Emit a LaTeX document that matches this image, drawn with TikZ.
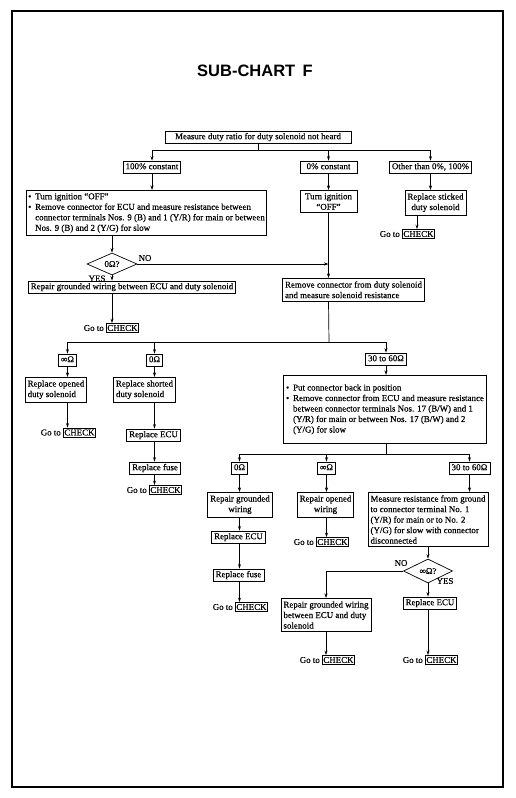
\documentclass[tikz,border=0pt]{standalone}
\usepackage{fontspec}
\setmainfont{Liberation Serif}[BoldFont={Liberation Serif},BoldFeatures={FakeBold=0.4}]
\setsansfont{Liberation Sans}
\usetikzlibrary{shapes.geometric,arrows.meta,positioning}
\newcommand\fs{\fontsize{8.9}{10.5}\selectfont\bfseries}
\newcommand\bulitem{\makebox[7pt][l]{\textbullet}}
\newcommand\bulind{\hspace*{7pt}}
\begin{document}
\begin{tikzpicture}[x=1pt,y=-1pt,
 every node/.style={font=\fs},
 onebox/.style={draw, line width=0.7pt, inner xsep=2.5pt, inner ysep=2pt, text height=6.3pt, text depth=1.9pt},
 multibox/.style={draw, line width=0.7pt, inner xsep=2.5pt, inner ysep=3pt, align=center},
 leftbox/.style={multibox, align=left},
 dia/.style={draw, diamond, line width=0.7pt, inner sep=0pt},
 ckbox/.style={draw, line width=0.7pt, inner xsep=1pt, inner ysep=1.2pt, text height=6.3pt, text depth=0.5pt},
 lab/.style={inner sep=0pt},
 ln/.style={line width=0.7pt},
 arr/.style={ln, -{Stealth[length=4.5pt,width=3pt]}}
]
\useasboundingbox (0,0) rectangle (516,798);
\fill[white] (0,0) rectangle (516,798);
\draw[line width=1.5pt] (12,11) rectangle (503,787);
\node[font=\sffamily\bfseries\fontsize{16.5}{16.5}\selectfont] (title) at (255,71) {SUB-CHART\hspace{0.45em}F};

% level 1
\node[onebox, minimum width=186pt] (A) at (258,137) {Measure duty ratio for duty solenoid not heard};
\coordinate (J1) at (258,150);
\node[onebox] (B1) at (152,167) {100\% constant};
\node[onebox, minimum width=57pt] (B2) at (328.5,167) {0\% constant};
\node[onebox] (B3) at (430.5,167) {Other than 0\%, 100\%};
\draw[ln] (A.south) -- (J1);
\draw[ln] (B1.north |- J1) -- (B3.north |- J1);
\foreach \n in {B1,B2,B3} \draw[arr] (\n.north |- J1) -- (\n.north);

% level 2
\node[leftbox, anchor=north, inner xsep=2pt] (C1) at (146.5,190) {\bulitem Turn ignition “OFF”\\\bulitem Remove connector for ECU and measure resistance between\\\bulind connector terminals Nos. 9 (B) and 1 (Y/R) for main or between\\\bulind Nos. 9 (B) and 2 (Y/G) for slow};
\node[multibox, anchor=north, minimum width=57pt] (C2) at (328.5,190) {Turn ignition\\“OFF”};
\node[multibox, anchor=north] (C3) at (435.5,190) {Replace sticked\\duty solenoid};
\draw[arr] (B1.south) -- (B1.south |- C1.north);
\draw[arr] (B2.south) -- (B2.south |- C2.north);
\draw[arr] (B3.south) -- (B3.south |- C3.north);

\node[ckbox, anchor=west] (k1) at (402,234) {CHECK};
\node[lab, anchor=base east] (g1) at ([xshift=-2pt]k1.base west) {Go to};
\draw[arr] ([xshift=-18.5pt]C3.south) -- ([xshift=-18.5pt]C3.south |- k1.north);

% diamond 1
\node[dia, minimum width=50pt, minimum height=22pt] (D1) at (112,264) {0Ω?};
\draw[arr] (D1.north |- C1.south) -- (D1.north);
\node[lab] (no1) at (145,258) {NO};
\node[lab] (yes1) at (97,278.5) {YES};
\node[onebox] (R1) at (132,287) {Repair grounded wiring between ECU and duty solenoid};
\draw[arr] (D1.south) -- (D1.south |- R1.north);
\node[ckbox, anchor=west] (k2) at (106,328) {CHECK};
\node[lab, anchor=base east] (g2) at ([xshift=-2pt]k2.base west) {Go to};
\draw[arr] (D1.south |- R1.south) -- (D1.south |- k2.north);

% solenoid resistance
\node[leftbox, anchor=north] (E) at (353.5,278) {Remove connector from duty solenoid\\and measure solenoid resistance};
\draw[arr] (C2.south) -- (C2.south |- E.north);
\draw[arr] (D1.east) -- (C2.south |- D1.east);
\coordinate (J2) at (329,342);
\draw[ln] (C2.south |- E.south) -- (J2);
\node[onebox] (H1) at (67.5,360) {∞Ω};
\node[onebox] (H2) at (154.5,360) {0Ω};
\node[onebox] (H3) at (386,359) {30 to 60Ω};
\draw[ln] (H1.north |- J2) -- (H3.north |- J2);
\foreach \n in {H1,H2,H3} \draw[arr] (\n.north |- J2) -- (\n.north);

% infinite branch
\node[leftbox, anchor=north] (I1) at (56,377) {Replace opened\\duty solenoid};
\draw[arr] (H1.south) -- (H1.south |- I1.north);
\node[ckbox, anchor=west] (k3) at (63,432.5) {CHECK};
\node[lab, anchor=base east] (g3) at ([xshift=-2pt]k3.base west) {Go to};
\draw[arr] (H1.south |- I1.south) -- (H1.south |- k3.north);

% zero branch
\node[leftbox, anchor=north] (I2) at (144.5,377) {Replace shorted\\duty solenoid};
\draw[arr] (H2.south) -- (H2.south |- I2.north);
\node[onebox] (ecuA) at (153.5,435) {Replace ECU};
\node[onebox] (fuseA) at (155,468) {Replace fuse};
\draw[arr] (H2.south |- I2.south) -- (H2.south |- ecuA.north);
\draw[arr] (H2.south |- ecuA.south) -- (H2.south |- fuseA.north);
\node[ckbox, anchor=west] (k4) at (149,490) {CHECK};
\node[lab, anchor=base east] (g4) at ([xshift=-2pt]k4.base west) {Go to};
\draw[arr] (H2.south |- fuseA.south) -- (H2.south |- k4.north);

% 30-60 branch
\node[leftbox, anchor=north, minimum height=68pt] (F) at (385,375) {\bulitem Put connector back in position\\\bulitem Remove connector from ECU and measure resistance\\\bulind between connector terminals Nos. 17 (B/W) and 1\\\bulind (Y/R) for main or between Nos. 17 (B/W) and 2\\\bulind (Y/G) for slow};
\draw[arr] (H3.south) -- (H3.south |- F.north);
\coordinate (J3) at (386,454);
\draw[ln] (H3.south |- F.south) -- (J3);
\node[onebox] (L1) at (239.5,468) {0Ω};
\node[onebox] (L2) at (326.5,468) {∞Ω};
\node[onebox] (L3) at (469.5,468) {30 to 60Ω};
\draw[ln] (L1.north |- J3) -- (L3.north |- J3);
\foreach \n in {L1,L2,L3} \draw[arr] (\n.north |- J3) -- (\n.north);

\node[multibox, anchor=north] (M1) at (240,492) {Repair grounded\\wiring};
\node[multibox, anchor=north] (M2) at (325.5,492) {Repair opened\\wiring};
\node[leftbox, anchor=north] (M3) at (428,492) {Measure resistance from ground\\to connector terminal No. 1\\(Y/R) for main or to No. 2\\(Y/G) for slow with connector\\disconnected};
\draw[arr] (L1.south) -- (L1.south |- M1.north);
\draw[arr] (L2.south) -- (L2.south |- M2.north);
\draw[arr] (L3.south) -- (L3.south |- M3.north);

\node[onebox] (ecuB) at (238.5,537) {Replace ECU};
\node[onebox] (fuseB) at (238.5,575) {Replace fuse};
\draw[arr] (L1.south |- M1.south) -- (L1.south |- ecuB.north);
\draw[arr] (L1.south |- ecuB.south) -- (L1.south |- fuseB.north);
\node[ckbox, anchor=west] (k6) at (235,607) {CHECK};
\node[lab, anchor=base east] (g6) at ([xshift=-2pt]k6.base west) {Go to};
\draw[arr] (L1.south |- fuseB.south) -- (L1.south |- k6.north);

\node[ckbox, anchor=west] (k5) at (316,542) {CHECK};
\node[lab, anchor=base east] (g5) at ([xshift=-2pt]k5.base west) {Go to};
\draw[arr] (L2.south |- M2.south) -- (L2.south |- k5.north);

% diamond 2
\node[dia, minimum width=49pt, minimum height=24pt] (D2) at (428,571) {∞Ω?};
\draw[arr] (M3.south) -- (D2.north);
\node[lab] (no2) at (401,563) {NO};
\node[lab] (yes2) at (445,581) {YES};
\node[leftbox, anchor=north] (M4) at (326,598) {Repair grounded wiring\\between ECU and duty\\solenoid};
\draw[arr] (D2.west) -| (M4.north);
\node[onebox] (ecuC) at (430,603) {Replace ECU};
\draw[arr] (D2.south) -- (D2.south |- ecuC.north);
\node[ckbox, anchor=west] (k7) at (322,660) {CHECK};
\node[lab, anchor=base east] (g7) at ([xshift=-2pt]k7.base west) {Go to};
\draw[arr] (M4.south) -- (M4.south |- k7.north);
\node[ckbox, anchor=west] (k8) at (425,660) {CHECK};
\node[lab, anchor=base east] (g8) at ([xshift=-2pt]k8.base west) {Go to};
\draw[arr] (D2.south |- ecuC.south) -- (D2.south |- k8.north);
\end{tikzpicture}
\end{document}
